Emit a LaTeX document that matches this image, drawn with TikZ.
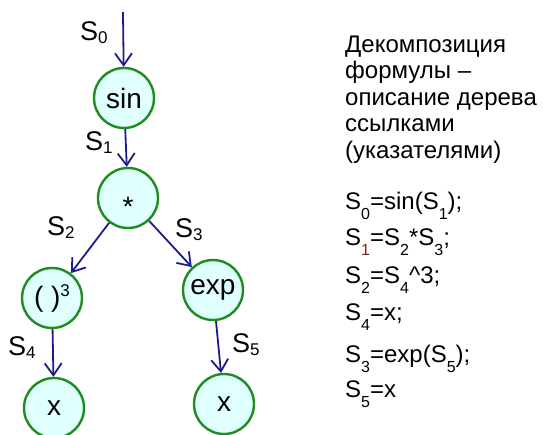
\documentclass[tikz,border=0pt]{standalone}
\usepackage{fontspec}
\setmainfont{Liberation Sans}
\usetikzlibrary{arrows.meta}
\definecolor{ptrblue}{HTML}{1C1C8C}
\definecolor{nodegreen}{HTML}{1E8C1E}
\definecolor{nodefill}{HTML}{E0FFFF}
\definecolor{subred}{HTML}{7A2020}
% tree labels S_i
\newcommand{\treelab}[1]{S\raisebox{-3.5pt}{\fontsize{17}{17}\selectfont #1}}
% subscripts in the right-hand equations
\newcommand{\eqS}[1]{S\raisebox{-10pt}{\fontsize{16}{16}\selectfont #1}}
\begin{document}
\begin{tikzpicture}[x=1pt,y=-1pt,
  opnode/.style={circle, draw=nodegreen, fill=nodefill, line width=2.4pt,
    minimum size=60pt, inner sep=0pt, font=\fontsize{28}{28}\selectfont},
  ptr/.style={draw=ptrblue, line width=1.8pt, -{Straight Barb[length=12pt,width=17pt]}},
  lab/.style={anchor=base west, inner sep=0pt, font=\fontsize{27}{27}\selectfont},
  eqline/.style={anchor=base west, inner sep=0pt, font=\fontsize{24}{24}\selectfont}]
\useasboundingbox (0,0) rectangle (543,434);

% tree nodes
\node[opnode] (sin) at (124,98) {sin};
\node[opnode] (mul) at (128,198) {\raisebox{-18pt}[0pt][0pt]{*}};
\node[opnode] (cube) at (52,298) {(\ )\raisebox{10pt}{\fontsize{17}{17}\selectfont 3}};
\node[opnode] (exp) at (213,290) {exp};
\node[opnode] (xl) at (54,408) {x};
\node[opnode] (xr) at (224,404) {x};
\coordinate (top) at (123,12);

% pointers
\draw[ptr] (top) -- (sin);
\draw[ptr] (sin) -- (mul);
\draw[ptr] (mul) -- (cube);
\draw[ptr] (mul) -- (exp);
\draw[ptr] (cube) -- (xl);
\draw[ptr] (exp) -- (xr);

% pointer labels
\node[lab] (l0) at (80,40) {\treelab{0}};
\node[lab] (l1) at (85,150) {\treelab{1}};
\node[lab] (l2) at (47,235) {\treelab{2}};
\node[lab] (l3) at (175,237) {\treelab{3}};
\node[lab] (l4) at (8,355) {\treelab{4}};
\node[lab] (l5) at (232,352) {\treelab{5}};

% caption (base anchor sits on the last line)
\node[anchor=base west, inner sep=0pt, align=left,
  font=\fontsize{24}{26.5}\selectfont] (cap) at (345,158)
  {Декомпозиция\\формулы –\\описание дерева\\ссылками\\(указателями)};

% equations
\node[eqline] (e0) at (345,209) {\eqS{0}=sin(\eqS{1});};
\node[eqline] (e1) at (345,245) {S\raisebox{-10pt}{\fontsize{16}{16}\selectfont\color{subred}1}=\eqS{2}*\eqS{3};};
\node[eqline] (e2) at (345,283) {\eqS{2}=\eqS{4}\^{}3;};
\node[eqline] (e3) at (345,320) {\eqS{4}=x;};
\node[eqline] (e4) at (345,362) {\eqS{3}=exp(\eqS{5});};
\node[eqline] (e5) at (345,397) {\eqS{5}=x};
\end{tikzpicture}
\end{document}
